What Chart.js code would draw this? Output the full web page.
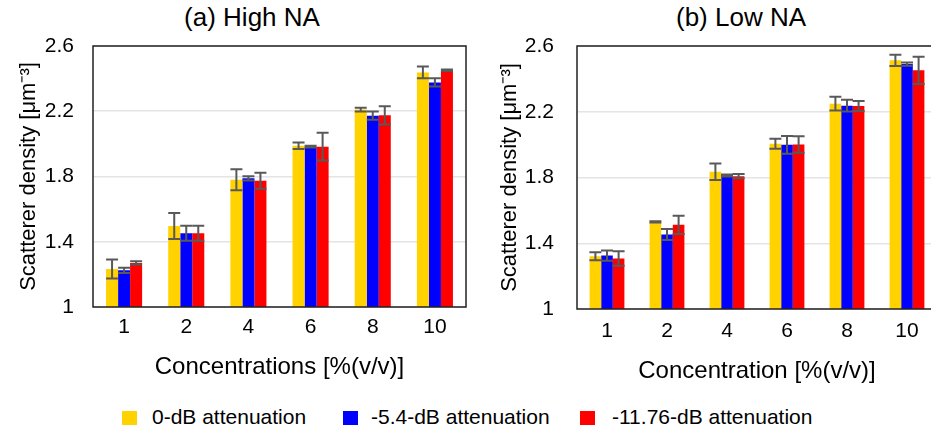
<!DOCTYPE html>
<html>
<head>
<meta charset="utf-8">
<script src="https://cdn.jsdelivr.net/npm/chart.js@4"></script>
<style>
  body { margin: 0; background: #fff; font-family: "Liberation Sans", Arial, sans-serif; }
  #wrap { position: relative; width: 931px; height: 430px; overflow: hidden; }
  #boxA { position: absolute; left: 0; top: 0; width: 480px; height: 392px; }
  #boxB { position: absolute; left: 482px; top: 0; width: 456px; height: 392px; }
  .ttl { position: absolute; top: 2px; width: 300px; text-align: center; font-size: 26px; color: #000; }
  #legend { position: absolute; top: 0; left: 0; }
  .sw { position: absolute; top: 411px; width: 15px; height: 14px; }
  .lt { position: absolute; top: 405px; font-size: 21px; color: #000; white-space: nowrap; }
</style>
</head>
<body>
<div id="wrap">
  <div class="ttl" style="left:102px">(a) High NA</div>
  <div class="ttl" style="left:591px">(b) Low NA</div>
  <div id="boxA"><canvas id="chartA"></canvas></div>
  <div id="boxB"><canvas id="chartB"></canvas></div>
  <div id="legend"></div>
</div>
<script>
// data
const concentrations = ['1', '2', '4', '6', '8', '10'];
const seriesNames = ['0-dB attenuation', '-5.4-dB attenuation', '-11.76-dB attenuation'];
const seriesColors = ['#FFD200', '#0000FF', '#FF0000'];

// (a) High NA
const highNA_0dB   = [1.233, 1.497, 1.780, 1.989, 2.210, 2.438];
const highNA_5dB   = [1.225, 1.452, 1.789, 1.983, 2.173, 2.377];
const highNA_11dB  = [1.270, 1.452, 1.774, 1.983, 2.175, 2.451];
const highNA_err0  = [0.058, 0.080, 0.064, 0.020, 0.012, 0.036];
const highNA_err5  = [0.016, 0.046, 0.013, 0.005, 0.025, 0.026];
const highNA_err11 = [0.010, 0.046, 0.049, 0.085, 0.056, 0.005];

// (b) Low NA
const lowNA_0dB   = [1.321, 1.530, 1.835, 2.005, 2.249, 2.513];
const lowNA_5dB   = [1.325, 1.453, 1.812, 1.999, 2.237, 2.490];
const lowNA_11dB  = [1.307, 1.512, 1.808, 2.001, 2.235, 2.452];
const lowNA_err0  = [0.025, 0.004, 0.050, 0.030, 0.042, 0.034];
const lowNA_err5  = [0.031, 0.033, 0.006, 0.054, 0.036, 0.010];
const lowNA_err11 = [0.044, 0.056, 0.013, 0.050, 0.030, 0.083];

const yTicks = [1, 1.4, 1.8, 2.2, 2.6];

const FONT = '"Liberation Sans", Arial, sans-serif';

// error bars + frame round the plot
const errorBars = {
  id: 'errorBars',
  afterDatasetsDraw(chart) {
    const ctx = chart.ctx;
    const y = chart.scales.y;
    ctx.save();
    ctx.strokeStyle = '#595959';
    ctx.lineWidth = 2;
    chart.data.datasets.forEach((ds, i) => {
      const meta = chart.getDatasetMeta(i);
      meta.data.forEach((bar, j) => {
        const v = ds.data[j], e = ds.errors[j];
        const top = y.getPixelForValue(v + e);
        const bot = y.getPixelForValue(v - e);
        ctx.beginPath();
        ctx.moveTo(bar.x, top); ctx.lineTo(bar.x, bot);
        ctx.moveTo(bar.x - 6, top); ctx.lineTo(bar.x + 6, top);
        ctx.moveTo(bar.x - 6, bot); ctx.lineTo(bar.x + 6, bot);
        ctx.stroke();
      });
    });
    const a = chart.chartArea;
    ctx.strokeStyle = '#222';
    ctx.lineWidth = 1.5;
    ctx.strokeRect(a.left, a.top, a.right - a.left, a.bottom - a.top);
    ctx.restore();
  }
};

function makeChart(id, xTitle, vals, errs, cfg) {
  return new Chart(document.getElementById(id), {
    type: 'bar',
    data: {
      labels: concentrations,
      datasets: vals.map((v, i) => ({
        label: seriesNames[i],
        data: v,
        errors: errs[i],
        backgroundColor: seriesColors[i],
        barPercentage: 1,
        categoryPercentage: 0.58
      }))
    },
    options: {
      responsive: true,
      maintainAspectRatio: false,
      animation: false,
      layout: { padding: { left: 0, right: cfg.padRight, top: 46, bottom: 0 } },
      plugins: {
        legend: { display: false },
        tooltip: { enabled: false }
      },
      scales: {
        x: {
          afterFit: s => { s.height = cfg.xHeight; },
          grid: { display: false, drawTicks: false },
          border: { display: false },
          ticks: { color: '#000', font: { family: FONT, size: 21 }, padding: cfg.xTickPad },
          title: { display: true, text: xTitle, color: '#000', font: { family: FONT, size: 24 }, padding: { top: 0, bottom: cfg.xTitlePad } }
        },
        y: {
          min: 1, max: 2.6,
          afterBuildTicks: s => { s.ticks = yTicks.map(v => ({ value: v })); },
          afterFit: s => { s.width = cfg.yWidth; },
          grid: { color: '#e4e4e4', lineWidth: 1.5, drawTicks: false },
          border: { display: false },
          ticks: { color: '#000', font: { family: FONT, size: 21 }, padding: cfg.yTickPad, callback: v => String(v) },
          title: { display: true, text: 'Scatterer density [μm⁻³]', color: '#000', font: { family: FONT, size: 22 }, padding: { top: cfg.yTitlePad, bottom: 0 } }
        }
      }
    },
    plugins: [errorBars]
  });
}

makeChart('chartA', 'Concentrations [%(v/v)]',
  [highNA_0dB, highNA_5dB, highNA_11dB], [highNA_err0, highNA_err5, highNA_err11],
  { padRight: 14, xHeight: 85, xTickPad: 8, xTitlePad: 10, yWidth: 93, yTickPad: 19, yTitlePad: 16 });
makeChart('chartB', 'Concentration [%(v/v)]',
  [lowNA_0dB, lowNA_5dB, lowNA_11dB], [lowNA_err0, lowNA_err5, lowNA_err11],
  { padRight: 1, xHeight: 83, xTickPad: 10, xTitlePad: 6, yWidth: 95, yTickPad: 23, yTitlePad: 15 });

// legend
const swatchX = [122, 343, 580];
const textX = [152, 371, 612];
const lg = document.getElementById('legend');
seriesNames.forEach((n, i) => {
  const s = document.createElement('div');
  s.className = 'sw';
  s.style.left = swatchX[i] + 'px';
  s.style.background = seriesColors[i];
  lg.appendChild(s);
  const t = document.createElement('div');
  t.className = 'lt';
  t.style.left = textX[i] + 'px';
  t.textContent = n;
  lg.appendChild(t);
});
</script>
</body>
</html>
